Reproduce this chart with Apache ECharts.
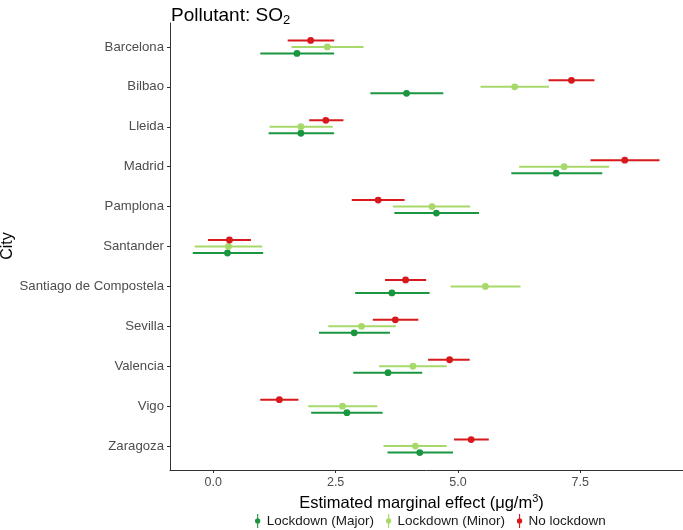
<!DOCTYPE html>
<html>
<head>
<meta charset="utf-8">
<script src="https://cdn.jsdelivr.net/npm/echarts@6/dist/echarts.min.js"></script>
<style>html,body{margin:0;padding:0;background:#fff}#c{width:683px;height:530px}</style>
</head>
<body>
<div id="c"></div>
<script>
const cities = ['Barcelona','Bilbao','Lleida','Madrid','Pamplona','Santander','Santiago de Compostela','Sevilla','Valencia','Vigo','Zaragoza'];
const xTicks = [0, 2.5, 5, 7.5];

const noLow  = [1.52, 6.85, 1.96, 7.71, 2.83, -0.11, 3.51, 3.26, 4.39, 0.96, 4.92];
const noEst  = [1.99, 7.32, 2.30, 8.41, 3.37, 0.33, 3.93, 3.72, 4.83, 1.35, 5.27];
const noHigh = [2.47, 7.79, 2.66, 9.12, 3.91, 0.77, 4.35, 4.19, 5.24, 1.74, 5.63];

const minorLow  = [1.60, 5.46, 1.15, 6.25, 3.67, -0.38, 4.85, 2.35, 3.39, 1.94, 3.48];
const minorEst  = [2.33, 6.16, 1.79, 7.17, 4.47, 0.31, 5.56, 3.03, 4.08, 2.64, 4.13];
const minorHigh = [3.07, 6.86, 2.44, 8.09, 5.25, 1.00, 6.28, 3.73, 4.77, 3.35, 4.77];

const majorLow  = [0.96, 3.21, 1.13, 6.09, 3.70, -0.42, 2.90, 2.16, 2.86, 2.00, 3.56];
const majorEst  = [1.71, 3.95, 1.79, 7.01, 4.56, 0.29, 3.65, 2.88, 3.57, 2.73, 4.22];
const majorHigh = [2.47, 4.70, 2.47, 7.95, 5.43, 1.02, 4.42, 3.61, 4.27, 3.46, 4.90];

const groups = [
  {name: 'Lockdown (Major)', color: '#1a9641', low: majorLow, est: majorEst, high: majorHigh, off: 0.1625},
  {name: 'Lockdown (Minor)', color: '#a6d96a', low: minorLow, est: minorEst, high: minorHigh, off: 0},
  {name: 'No lockdown', color: '#d7191c', low: noLow, est: noEst, high: noHigh, off: -0.1625}
];

const legendIcon = 'path://M4.2,0 L5.8,0 L5.8,20 L4.2,20 Z M5,6.2 A3.8,3.8 0 1 1 4.99,6.2 Z';

const chart = echarts.init(document.getElementById('c'));
chart.setOption({
  animation: false,
  backgroundColor: '#fff',
  textStyle: {fontFamily: 'Liberation Sans, Arial, sans-serif'},
  title: {
    text: '{a|Pollutant: SO}{s|2}',
    left: 166, top: 0,
    textStyle: {
      fontWeight: 'normal',
      rich: {
        a: {fontSize: 19, color: '#000', fontFamily: 'Liberation Sans', fontWeight: 'normal'},
        s: {fontSize: 13, color: '#000', fontFamily: 'Liberation Sans', fontWeight: 'normal', verticalAlign: 'bottom', padding: [9, 0, 0, 0]}
      }
    }
  },
  graphic: [{
    type: 'text', x: 8, y: 246, rotation: Math.PI / 2,
    style: {text: 'City', fontSize: 16, fill: '#000', fontFamily: 'Liberation Sans', textAlign: 'center', textVerticalAlign: 'middle'}
  }],
  legend: {
    bottom: 0, left: 250,
    itemWidth: 8, itemHeight: 14, itemGap: 12,
    padding: [5, 5, 2, 5],
    textStyle: {fontSize: 13.5, color: '#1a1a1a', fontFamily: 'Liberation Sans'},
    data: groups.map(g => ({name: g.name, icon: legendIcon}))
  },
  grid: {left: 170, right: 0, top: 23, bottom: 60, containLabel: false, outerBoundsMode: 'none'},
  xAxis: {
    type: 'value', min: -0.885, max: 9.6,
    name: '{a|Estimated marginal effect (μg/m}{s|3}{a|)}',
    nameLocation: 'middle', nameGap: 17,
    nameTextStyle: {
      padding: [0, 10, 0, 0],
      rich: {
        a: {fontSize: 16.5, color: '#000', fontFamily: 'Liberation Sans'},
        s: {fontSize: 11, color: '#000', fontFamily: 'Liberation Sans', verticalAlign: 'top', padding: [0, 0, 9, 0]}
      }
    },
    splitLine: {show: false},
    axisLine: {show: true, onZero: false, lineStyle: {color: '#333', width: 1}},
    axisTick: {show: true, length: 3, customValues: xTicks, lineStyle: {color: '#333'}},
    axisLabel: {customValues: xTicks, formatter: v => v.toFixed(1), fontSize: 12.5, color: '#4d4d4d', margin: 6}
  },
  yAxis: {
    type: 'value', inverse: true, min: -0.6, max: 10.6,
    splitLine: {show: false},
    axisLine: {show: true, onZero: false, lineStyle: {color: '#333', width: 1}},
    axisTick: {show: true, length: 3, customValues: cities.map((c, i) => i), lineStyle: {color: '#333'}},
    axisLabel: {customValues: cities.map((c, i) => i), formatter: v => cities[Math.round(v)], fontSize: 13.2, color: '#4d4d4d', margin: 6}
  },
  series: groups.map(g => ({
    type: 'custom',
    name: g.name,
    itemStyle: {color: g.color},
    encode: {x: [1, 2, 3], y: 0},
    data: cities.map((c, i) => [i, g.low[i], g.est[i], g.high[i]]),
    renderItem: function (params, api) {
      const yi = api.value(0);
      const band = api.size([0, 1])[1];
      const off = g.off * band;
      const p1 = api.coord([api.value(1), yi]);
      const pc = api.coord([api.value(2), yi]);
      const p2 = api.coord([api.value(3), yi]);
      return {
        type: 'group',
        children: [
          {type: 'line', shape: {x1: p1[0], y1: p1[1] + off, x2: p2[0], y2: p2[1] + off}, style: {stroke: g.color, lineWidth: 2}},
          {type: 'circle', shape: {cx: pc[0], cy: pc[1] + off, r: 3.4}, style: {fill: g.color}}
        ]
      };
    }
  }))
});
</script>
</body>
</html>
